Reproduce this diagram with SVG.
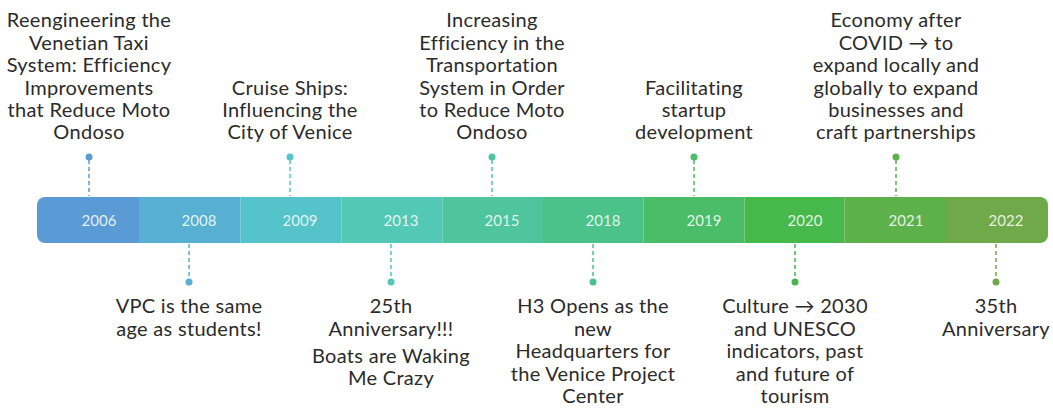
<svg xmlns="http://www.w3.org/2000/svg" width="1053" height="413" viewBox="0 0 1053 413">
<defs>
<style>
.lbl{font-family:Lato,"Open Sans","Liberation Sans",sans-serif;font-size:20px;letter-spacing:0.3px;fill:#2b2b2b;text-anchor:middle}
.yr{font-family:Lato,"Open Sans","Liberation Sans",sans-serif;font-size:15px;fill:#ffffff;fill-opacity:0.85;text-anchor:middle}
.dash{stroke-width:1.5;stroke-dasharray:4 3;fill:none}
</style>
<clipPath id="barclip"><rect x="37" y="197" width="1011" height="46" rx="8" ry="8"/></clipPath>
</defs>
<rect width="1053" height="413" fill="#ffffff"/>
<g id="bar" clip-path="url(#barclip)">
<rect x="37" y="197" width="102" height="46" fill="#5b9bd5"/>
<rect x="139" y="197" width="101.5" height="46" fill="#57afd1"/>
<rect x="240.5" y="197" width="101" height="46" fill="#55c3ca"/>
<rect x="341.5" y="197" width="101" height="46" fill="#52c8b5"/>
<rect x="442.5" y="197" width="99.5" height="46" fill="#4ec59d"/>
<rect x="542" y="197" width="101.5" height="46" fill="#4bc28a"/>
<rect x="643.5" y="197" width="101" height="46" fill="#4abd69"/>
<rect x="744.5" y="197" width="100" height="46" fill="#47b84b"/>
<rect x="844.5" y="197" width="101.5" height="46" fill="#5db14a"/>
<rect x="946" y="197" width="102" height="46" fill="#70a949"/>
</g>
<g id="years">
<text class="yr" x="99" y="226">2006</text>
<text class="yr" x="199" y="226">2008</text>
<text class="yr" x="300" y="226">2009</text>
<text class="yr" x="401" y="226">2013</text>
<text class="yr" x="502" y="226">2015</text>
<text class="yr" x="603" y="226">2018</text>
<text class="yr" x="704" y="226">2019</text>
<text class="yr" x="805" y="226">2020</text>
<text class="yr" x="906" y="226">2021</text>
<text class="yr" x="1006" y="226">2022</text>
</g>
<g id="connectors">
<line class="dash" x1="89" y1="160" x2="89" y2="196" stroke="#5b9bd5"/>
<circle cx="89" cy="157" r="3.5" fill="#5b9bd5"/>
<line class="dash" x1="290" y1="160" x2="290" y2="196" stroke="#55c3ca"/>
<circle cx="290" cy="157" r="3.5" fill="#55c3ca"/>
<line class="dash" x1="492" y1="160" x2="492" y2="196" stroke="#4ec59d"/>
<circle cx="492" cy="157" r="3.5" fill="#4ec59d"/>
<line class="dash" x1="694" y1="160" x2="694" y2="196" stroke="#4abd69"/>
<circle cx="694" cy="157" r="3.5" fill="#4abd69"/>
<line class="dash" x1="896" y1="160" x2="896" y2="196" stroke="#5db14a"/>
<circle cx="896" cy="157" r="3.5" fill="#5db14a"/>
<line class="dash" x1="189" y1="244" x2="189" y2="279" stroke="#57afd1"/>
<circle cx="189" cy="282" r="3.5" fill="#57afd1"/>
<line class="dash" x1="391" y1="244" x2="391" y2="279" stroke="#52c8b5"/>
<circle cx="391" cy="282" r="3.5" fill="#52c8b5"/>
<line class="dash" x1="593" y1="244" x2="593" y2="279" stroke="#4bc28a"/>
<circle cx="593" cy="282" r="3.5" fill="#4bc28a"/>
<line class="dash" x1="795" y1="244" x2="795" y2="279" stroke="#47b84b"/>
<circle cx="795" cy="282" r="3.5" fill="#47b84b"/>
<line class="dash" x1="996" y1="244" x2="996" y2="279" stroke="#70a949"/>
<circle cx="996" cy="282" r="3.5" fill="#70a949"/>
</g>
<g id="e2006">
<text class="lbl" x="89" y="27">Reengineering the</text>
<text class="lbl" x="89" y="49.5">Venetian Taxi</text>
<text class="lbl" x="89" y="72">System: Efficiency</text>
<text class="lbl" x="89" y="94.5">Improvements</text>
<text class="lbl" x="89" y="116.5">that Reduce Moto</text>
<text class="lbl" x="89" y="138.5">Ondoso</text>
</g>
<g id="e2009">
<text class="lbl" x="290" y="94.5">Cruise Ships:</text>
<text class="lbl" x="290" y="116.5">Influencing the</text>
<text class="lbl" x="290" y="138.5">City of Venice</text>
</g>
<g id="e2015">
<text class="lbl" x="492" y="27">Increasing</text>
<text class="lbl" x="492" y="49.5">Efficiency in the</text>
<text class="lbl" x="492" y="72">Transportation</text>
<text class="lbl" x="492" y="94.5">System in Order</text>
<text class="lbl" x="492" y="116.5">to Reduce Moto</text>
<text class="lbl" x="492" y="138.5">Ondoso</text>
</g>
<g id="e2019">
<text class="lbl" x="694" y="94.5">Facilitating</text>
<text class="lbl" x="694" y="116.5">startup</text>
<text class="lbl" x="694" y="138.5">development</text>
</g>
<g id="e2021">
<text class="lbl" x="896" y="27">Economy after</text>
<text class="lbl" x="896" y="49.5">COVID → to</text>
<text class="lbl" x="896" y="72">expand locally and</text>
<text class="lbl" x="896" y="94.5">globally to expand</text>
<text class="lbl" x="896" y="116.5">businesses and</text>
<text class="lbl" x="896" y="138.5">craft partnerships</text>
</g>
<g id="e2008">
<text class="lbl" x="189" y="313">VPC is the same</text>
<text class="lbl" x="189" y="335.5">age as students!</text>
</g>
<g id="e2013">
<text class="lbl" x="391" y="313">25th</text>
<text class="lbl" x="391" y="335.5">Anniversary!!!</text>
<text class="lbl" x="391" y="363">Boats are Waking</text>
<text class="lbl" x="391" y="385">Me Crazy</text>
</g>
<g id="e2018">
<text class="lbl" x="593" y="313">H3 Opens as the</text>
<text class="lbl" x="593" y="335.5">new</text>
<text class="lbl" x="593" y="358">Headquarters for</text>
<text class="lbl" x="593" y="380.5">the Venice Project</text>
<text class="lbl" x="593" y="403">Center</text>
</g>
<g id="e2020">
<text class="lbl" x="795" y="313">Culture → 2030</text>
<text class="lbl" x="795" y="335.5">and UNESCO</text>
<text class="lbl" x="795" y="358">indicators, past</text>
<text class="lbl" x="795" y="380.5">and future of</text>
<text class="lbl" x="795" y="403">tourism</text>
</g>
<g id="e2022">
<text class="lbl" x="996" y="313">35th</text>
<text class="lbl" x="996" y="335.5">Anniversary</text>
</g>
</svg>
